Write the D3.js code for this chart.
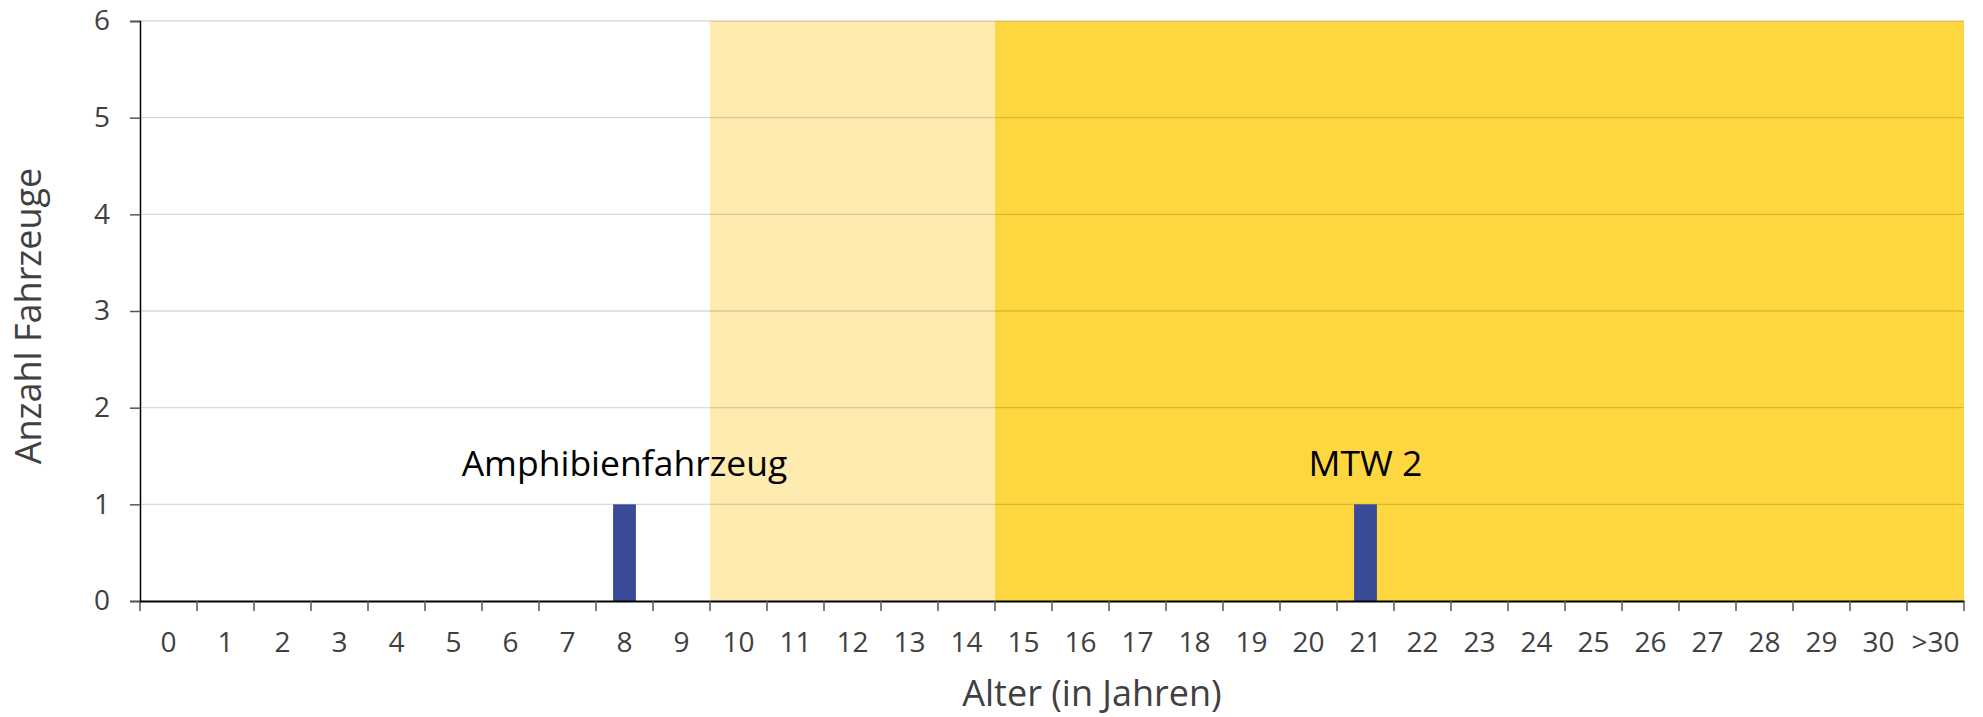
<!DOCTYPE html>
<html>
<head>
<meta charset="utf-8">
<script src="https://cdn.jsdelivr.net/npm/d3@7"></script>
<style>
  body { margin: 0; background: #fff; }
  text { font-family: "Open Sans", sans-serif; }
</style>
</head>
<body>
<div id="container"><svg></svg></div>
<script>
let width = 1983;
let height = 717;

// Alter in Jahren
let categories = ["0","1","2","3","4","5","6","7","8","9","10","11","12","13","14","15",
  "16","17","18","19","20","21","22","23","24","25","26","27","28","29","30",">30"];
// Anzahl Fahrzeuge pro Alter
let counts = [0,0,0,0,0,0,0,0,1,0,0,0,0,0,0,0,0,0,0,0,0,1,0,0,0,0,0,0,0,0,0,0];
// Fahrzeugnamen über den Balken
let barNames = {"8": "Amphibienfahrzeug", "21": "MTW 2"};
// Hintergrund-Zonen (von Kategorie, bis Kategorie)
let zoneFrom = ["10", "15"];
let zoneTo = ["14", ">30"];
let zoneColors = ["#feebb0", "#fed640"];
let yTicks = [0,1,2,3,4,5,6];

let margin = {top: 21, right: 19, bottom: 116, left: 140};

let svg = d3.select('#container').select('svg')
    .attr('width', width)
    .attr('height', height);

let x = d3.scaleBand()
    .domain(categories)
    .range([margin.left, width - margin.right])
    .paddingInner(0.6)
    .paddingOuter(0.3);
let y = d3.scaleLinear()
    .domain([0, 6])
    .range([height - margin.bottom, margin.top]);

let step = x.step();
let left = c => x(c) - step * x.paddingInner() / 2;

// Zonen
svg.append("g")
    .selectAll("rect")
    .data(zoneFrom)
    .join("rect")
    .attr("x", d => left(d))
    .attr("y", y(6))
    .attr("width", (d, i) => left(zoneTo[i]) + step - left(d))
    .attr("height", y(0) - y(6))
    .attr("fill", (d, i) => zoneColors[i]);

// Gitterlinien
svg.append("g")
    .selectAll("line")
    .data(yTicks.filter(d => d > 0))
    .join("line")
    .attr("x1", x.range()[0])
    .attr("x2", x.range()[1])
    .attr("y1", d => y(d))
    .attr("y2", d => y(d))
    .attr("stroke", "#000")
    .attr("stroke-opacity", 0.15)
    .attr("stroke-width", 1.3);

// Balken
svg.append("g")
    .selectAll("rect")
    .data(categories)
    .join("rect")
    .attr("x", d => x(d))
    .attr("width", x.bandwidth())
    .attr("y", (d, i) => y(counts[i]))
    .attr("height", (d, i) => y(0) - y(counts[i]))
    .attr("fill", "#394a97");

// Beschriftung der Balken
svg.append("g")
    .selectAll("text")
    .data(Object.keys(barNames))
    .join("text")
    .attr("x", d => x(d) + x.bandwidth() / 2)
    .attr("y", d => y(counts[categories.indexOf(d)]) - 28)
    .attr("text-anchor", "middle")
    .attr("font-size", 35.5)
    .attr("fill", "#000")
    .text(d => barNames[d]);

// x-Achse
let xAxis = svg.append("g")
    .attr("transform", `translate(0,${y(0)})`)
    .call(d3.axisBottom(x).tickSize(0).tickPadding(31));
xAxis.select(".domain").attr("stroke", "#000").attr("stroke-width", 2);
xAxis.selectAll("text").attr("font-size", 28).attr("fill", "#404040")
    .style("font-family", "'Open Sans', sans-serif");

// Teilstriche an den Kategoriegrenzen
xAxis.append("g")
    .selectAll("line")
    .data(categories.concat(["end"]))
    .join("line")
    .attr("x1", (d, i) => i < categories.length ? left(d) : x.range()[1])
    .attr("x2", (d, i) => i < categories.length ? left(d) : x.range()[1])
    .attr("y1", 0)
    .attr("y2", 10)
    .attr("stroke", "#555")
    .attr("stroke-width", 1.5);

// y-Achse
let yAxis = svg.append("g")
    .attr("transform", `translate(${margin.left},0)`)
    .call(d3.axisLeft(y).tickValues(yTicks).tickFormat(d3.format("d")).tickSize(10).tickPadding(20));
yAxis.select(".domain").attr("stroke", "#000").attr("stroke-width", 1.5);
yAxis.selectAll(".tick line").attr("stroke", "#555").attr("stroke-width", 1.5);
yAxis.selectAll("text").attr("font-size", 28).attr("fill", "#404040")
    .style("font-family", "'Open Sans', sans-serif");

// Achsentitel
svg.append("text")
    .attr("x", 1092)
    .attr("y", 706)
    .attr("text-anchor", "middle")
    .attr("font-size", 36)
    .attr("fill", "#404040")
    .text("Alter (in Jahren)");

svg.append("text")
    .attr("transform", `translate(41,${(y(0) + y(6)) / 2 + 5}) rotate(-90)`)
    .attr("text-anchor", "middle")
    .attr("font-size", 36)
    .attr("fill", "#404040")
    .text("Anzahl Fahrzeuge");
</script>
</body>
</html>
